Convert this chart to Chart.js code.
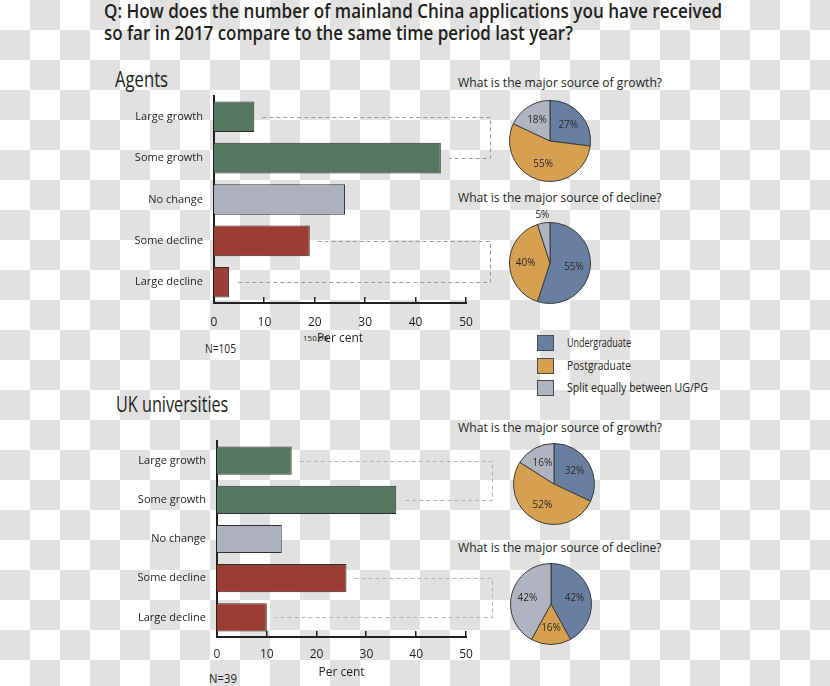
<!DOCTYPE html>
<html>
<head>
<meta charset="utf-8">
<title>Mainland China applications 2017</title>
<script src="https://cdn.jsdelivr.net/npm/chart.js@4.4.1/dist/chart.umd.min.js"></script>
<style>
  html, body { margin: 0; padding: 0; }
  body {
    width: 830px; height: 686px; position: relative; overflow: hidden;
    background: conic-gradient(#e1e1e1 0 25%, #fff 0 50%, #e1e1e1 0 75%, #fff 0) 0 0 / 60px 60px;
    font-family: 'Open Sans', 'Noto Sans', sans-serif; color: #231f20;
  }
  .txt { position: absolute; white-space: nowrap; line-height: 1; transform-origin: 0 0; }
  canvas { position: absolute; }
  .key { position: absolute; left: 537px; width: 15px; height: 14px; border: 1px solid #4a4a4a; box-sizing: content-box; }
</style>
</head>
<body>

<div class="txt" data-w="618" style="left:104px;top:2px;font-size:19px;font-weight:600">Q: How does the number of mainland China applications you have received</div>
<div class="txt" data-w="469" style="left:104px;top:24px;font-size:19px;font-weight:600">so far in 2017 compare to the same time period last year?</div>

<div class="txt" data-w="53" style="left:115px;top:67px;font-size:22px">Agents</div>
<div class="txt" data-w="112" style="left:116px;top:394px;font-size:21px">UK universities</div>

<div class="txt" data-w="204" style="left:458px;top:76px;font-size:13.5px">What is the major source of growth?</div>
<div class="txt" data-w="204" style="left:458px;top:191px;font-size:13.5px">What is the major source of decline?</div>
<div class="txt" data-w="204" style="left:458px;top:421px;font-size:13.5px">What is the major source of growth?</div>
<div class="txt" data-w="204" style="left:458px;top:541px;font-size:13.5px">What is the major source of decline?</div>

<div class="txt" data-w="31" style="left:205px;top:343px;font-size:12.5px">N=105</div>
<div class="txt" data-w="28" style="left:209px;top:673px;font-size:12.5px">N=39</div>
<div class="txt" style="left:303px;top:334px;font-size:8px">150.00</div>

<div id="legend"></div>

<canvas id="agentsBars" width="400" height="270" style="left:100px;top:85px"></canvas>
<canvas id="ukBars" width="400" height="261" style="left:100px;top:425px"></canvas>
<canvas id="agentsGrowth" width="110" height="110" style="left:495px;top:86px"></canvas>
<canvas id="agentsDecline" width="110" height="110" style="left:495px;top:208px"></canvas>
<canvas id="ukGrowth" width="110" height="110" style="left:499px;top:429px"></canvas>
<canvas id="ukDecline" width="110" height="110" style="left:496px;top:549px"></canvas>

<script>
// ---- data (per cent) ----
const categories = ['Large growth', 'Some growth', 'No change', 'Some decline', 'Large decline'];
const agentsShares = [8, 45, 26, 19, 3];
const ukShares = [15, 36, 13, 26, 10];
const xTicks = [0, 10, 20, 30, 40, 50];

const sourceLabels = ['Undergraduate', 'Postgraduate', 'Split equally between UG/PG'];
const agentsGrowthSource = [27, 55, 18];
const agentsDeclineSource = [55, 40, 5];
const ukGrowthSource = [32, 52, 16];
const ukDeclineSource = [42, 16, 42];

// ---- styling ----
const barColors = ['#56775f', '#56775f', '#aeb1bd', '#9b3d33', '#9b3d33'];
const sourceColors = ['#687fa1', '#d5a04f', '#b0b4c0'];
const ink = '#231f20';

Chart.defaults.font.family = "'Open Sans', 'Noto Sans', sans-serif";
Chart.defaults.color = ink;

// squeeze html text to the width it has in the original (condensed face)
document.querySelectorAll('[data-w]').forEach(el => {
  el.style.transform = 'scaleX(' + (Number(el.dataset.w) / el.offsetWidth) + ')';
});

// shared legend
const legendTops = [335, 358, 380];
const legendWidths = [64, 64, 141];
const legend = document.getElementById('legend');
sourceLabels.forEach((name, i) => {
  const box = document.createElement('div');
  box.className = 'key';
  box.style.top = legendTops[i] + 'px';
  box.style.background = sourceColors[i];
  legend.appendChild(box);
  const t = document.createElement('div');
  t.className = 'txt';
  t.style.cssText = 'left:567px;top:' + (legendTops[i] + 2) + 'px;font-size:12.5px';
  t.textContent = name;
  legend.appendChild(t);
  t.style.transform = 'scaleX(' + (legendWidths[i] / t.offsetWidth) + ')';
});

// small upward tick marks on the value axis
const innerTicks = {
  id: 'innerTicks',
  afterDraw(chart) {
    const s = chart.scales.x, ctx = chart.ctx;
    ctx.save();
    ctx.strokeStyle = ink;
    ctx.lineWidth = 1.5;
    s.ticks.forEach(t => {
      if (t.value === 0) return;
      const x = Math.round(s.getPixelForValue(t.value)) - 0.25;
      ctx.beginPath();
      ctx.moveTo(x, s.top);
      ctx.lineTo(x, s.top - 6);
      ctx.stroke();
    });
    ctx.restore();
  }
};

// dashed brackets joining growth / decline bars to their pies
const bracketLines = {
  id: 'bracketLines',
  afterDatasetsDraw(chart, args, opts) {
    const bars = chart.getDatasetMeta(0).data;
    const ctx = chart.ctx;
    ctx.save();
    ctx.strokeStyle = opts.color;
    ctx.lineWidth = 1;
    ctx.setLineDash([4, 3]);
    opts.groups.forEach(([a, b]) => {
      const ya = Math.round(bars[a].y) + 0.5, yb = Math.round(bars[b].y) + 0.5;
      ctx.beginPath();
      ctx.moveTo(bars[a].x + opts.gap, ya);
      ctx.lineTo(opts.x + 0.5, ya);
      ctx.lineTo(opts.x + 0.5, yb);
      ctx.lineTo(bars[b].x + opts.gap, yb);
      ctx.stroke();
    });
    ctx.restore();
  }
};

function makeBars(id, values, cfg) {
  return new Chart(document.getElementById(id), {
    type: 'bar',
    data: {
      labels: categories,
      datasets: [{
        data: values,
        backgroundColor: barColors,
        borderColor: '#2e2e2e',
        borderWidth: 1,
        barPercentage: cfg.barPct,
        categoryPercentage: 1
      }]
    },
    options: {
      indexAxis: 'y',
      responsive: false,
      animation: false,
      devicePixelRatio: 1,
      layout: { padding: { top: cfg.padTop, right: 34, bottom: 0, left: 0 } },
      plugins: {
        legend: { display: false },
        tooltip: { enabled: false },
        bracketLines: { groups: [[0, 1], [3, 4]], x: cfg.bracketX, gap: 8, color: cfg.dash }
      },
      scales: {
        y: {
          grid: { display: false, drawTicks: false },
          border: { display: true, color: ink, width: 2 },
          ticks: { padding: 11, font: { size: 11 }, color: ink },
          afterFit: s => {
            s.width = cfg.axisLeft;
            s.paddingTop = 0;
            s.paddingBottom = 0;
          }
        },
        x: {
          min: 0,
          max: 50,
          grid: { display: false, drawTicks: false },
          border: { display: true, color: ink, width: 2 },
          ticks: { padding: cfg.tickPad, font: { size: 12 }, color: ink },
          afterBuildTicks: s => { s.ticks = xTicks.map(v => ({ value: v })); },
          title: { display: true, text: 'Per cent', font: { size: 12 }, color: ink, padding: { top: 0, bottom: cfg.titlePad } },
          afterFit: s => {
            s.height = cfg.xHeight;
            s.paddingLeft = 0;
            s.paddingRight = 0;
          }
        }
      }
    },
    plugins: [innerTicks, bracketLines]
  });
}

makeBars('agentsBars', agentsShares, { axisLeft: 114, padTop: 11, xHeight: 52, tickPad: 12, titlePad: 9, barPct: 0.74, bracketX: 390, dash: '#9a9a9a' });
makeBars('ukBars', ukShares, { axisLeft: 117, padTop: 16, xHeight: 49, tickPad: 10, titlePad: 6, barPct: 0.72, bracketX: 392, dash: '#b4b4b4' });

// percentage labels inside (or just outside, for thin slices) the pies
const sliceLabels = {
  id: 'sliceLabels',
  afterDatasetsDraw(chart) {
    const ctx = chart.ctx;
    const vals = chart.data.datasets[0].data;
    ctx.save();
    ctx.font = "10px 'Open Sans', 'Noto Sans', sans-serif";
    ctx.fillStyle = '#2a2a2a';
    ctx.textAlign = 'center';
    ctx.textBaseline = 'middle';
    chart.getDatasetMeta(0).data.forEach((arc, i) => {
      const p = arc.getProps(['x', 'y', 'startAngle', 'endAngle', 'outerRadius'], true);
      const mid = (p.startAngle + p.endAngle) / 2;
      const r = p.outerRadius * (vals[i] < 8 ? 1.2 : 0.6);
      ctx.fillText(vals[i] + '%', p.x + Math.cos(mid) * r, p.y + Math.sin(mid) * r);
    });
    ctx.restore();
  }
};

function makePie(id, values) {
  return new Chart(document.getElementById(id), {
    type: 'pie',
    data: {
      labels: sourceLabels,
      datasets: [{ data: values, backgroundColor: sourceColors, borderColor: '#3b3b3b', borderWidth: 1 }]
    },
    options: {
      responsive: false,
      animation: false,
      devicePixelRatio: 1,
      layout: { padding: 14 },
      plugins: { legend: { display: false }, tooltip: { enabled: false } }
    },
    plugins: [sliceLabels]
  });
}

makePie('agentsGrowth', agentsGrowthSource);
makePie('agentsDecline', agentsDeclineSource);
makePie('ukGrowth', ukGrowthSource);
makePie('ukDecline', ukDeclineSource);
</script>
</body>
</html>
